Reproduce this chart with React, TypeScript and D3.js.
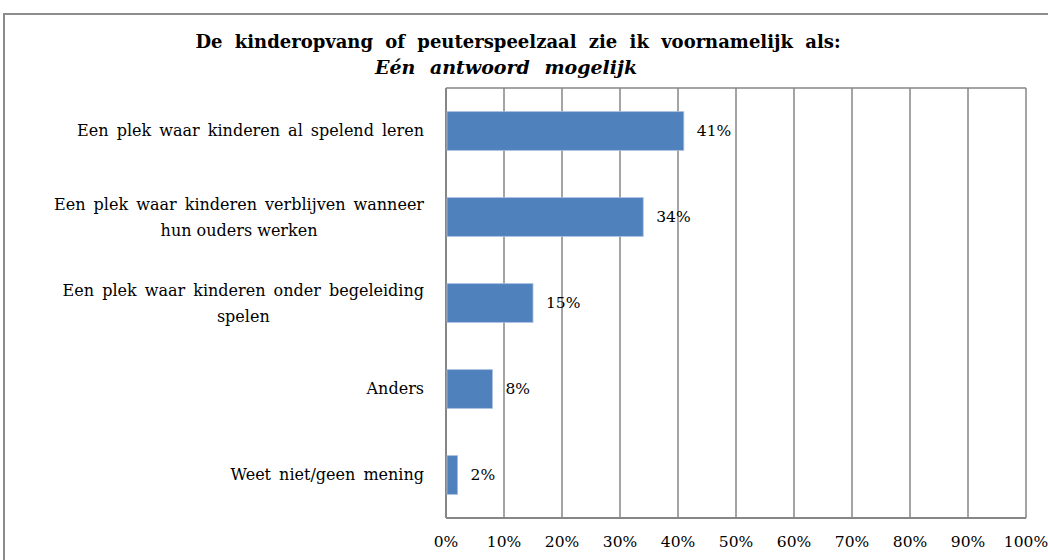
import React, { useLayoutEffect, useRef, useState } from "react";
import * as d3 from "d3";

const categories: string[][] = [
  ["Een plek waar kinderen al spelend leren"],
  ["Een plek waar kinderen verblijven wanneer", "hun ouders werken"],
  ["Een plek waar kinderen onder begeleiding", "spelen"],
  ["Anders"],
  ["Weet niet/geen mening"],
];
const values: number[] = [41, 34, 15, 8, 2];
const valueLabels: string[] = ["41%", "34%", "15%", "8%", "2%"];
const ticks: number[] = [0, 10, 20, 30, 40, 50, 60, 70, 80, 90, 100];
const title = "De kinderopvang of peuterspeelzaal zie ik voornamelijk als:";
const subtitle = "Eén antwoord mogelijk";

const W = 1048;
const H = 560;
const plot = { left: 446, right: 1026, top: 88, bottom: 518 };
const FONT = "'DejaVu Serif', serif";
const LABEL_RIGHT = 424;

function WrappedLabel({ lines, cy }: { lines: string[]; cy: number }) {
  const ref = useRef<SVGTextElement>(null);
  const [w, setW] = useState(380);
  useLayoutEffect(() => {
    if (ref.current) setW(ref.current.getComputedTextLength());
  }, []);
  const cx = LABEL_RIGHT - w / 2;
  return (
    <g>
      <text ref={ref} x={LABEL_RIGHT} y={cy - 7} textAnchor="end" fontFamily={FONT} fontSize={16} wordSpacing={3} fill="#000">
        {lines[0]}
      </text>
      <text x={cx} y={cy + 19} textAnchor="middle" fontFamily={FONT} fontSize={16} fill="#000">
        {lines[1]}
      </text>
    </g>
  );
}

export default function App() {
  const x = d3.scaleLinear().domain([0, 100]).range([plot.left, plot.right]);
  const y = d3
    .scaleBand<number>()
    .domain(categories.map((_, i) => i))
    .range([plot.top, plot.bottom])
    .paddingInner(0.55)
    .paddingOuter(0.275);
  const grid = "#868686";
  return (
    <svg
      width={W}
      height={H}
      style={{ position: "absolute", left: 0, top: 0, background: "#fff" }}
    >
      <rect x={4} y={14} width={W + 10} height={H + 10} fill="#fff" stroke="#8c8c8c" strokeWidth={2} />
      <text x={518} y={48} textAnchor="middle" fontFamily={FONT} fontWeight="bold" fontSize={18} wordSpacing={6} fill="#000">
        {title}
      </text>
      <text x={506} y={74} textAnchor="middle" fontFamily={FONT} fontStyle="italic" fontWeight="bold" fontSize={19} wordSpacing={8} fill="#000">
        {subtitle}
      </text>
      {ticks.map((t) => (
        <line key={t} x1={x(t)} x2={x(t)} y1={plot.top} y2={plot.bottom} stroke={grid} strokeWidth={1.5} />
      ))}
      <line x1={plot.left} x2={plot.right} y1={plot.top} y2={plot.top} stroke={grid} strokeWidth={1.5} />
      <line x1={plot.left} x2={plot.right} y1={plot.bottom} y2={plot.bottom} stroke={grid} strokeWidth={2} />
      <line x1={plot.left} x2={plot.left} y1={plot.top} y2={plot.bottom} stroke={grid} strokeWidth={2} />
      {values.map((v, i) => (
        <rect
          key={i}
          x={x(0) + 1}
          y={y(i)!}
          width={x(v) - x(0) - 1}
          height={y.bandwidth()}
          fill="#4f81bd"
          stroke="#a7bfde"
          strokeWidth={0.8}
        />
      ))}
      {values.map((v, i) => (
        <text
          key={"l" + i}
          x={x(v) + 13}
          y={y(i)! + y.bandwidth() / 2 + 5}
          fontFamily={FONT}
          fontSize={15.5}
          fill="#000"
        >
          {valueLabels[i]}
        </text>
      ))}
      {categories.map((lines, i) => {
        const cy = y(i)! + y.bandwidth() / 2;
        if (lines.length === 1) {
          return (
            <text key={"c" + i} x={LABEL_RIGHT} y={cy + 5} textAnchor="end" fontFamily={FONT} fontSize={16} wordSpacing={3} fill="#000">
              {lines[0]}
            </text>
          );
        }
        return <WrappedLabel key={"c" + i} lines={lines} cy={cy} />;
      })}
      {ticks.map((t) => (
        <text key={"t" + t} x={x(t)} y={547} textAnchor="middle" fontFamily={FONT} fontSize={15.5} fill="#000">
          {t + "%"}
        </text>
      ))}
    </svg>
  );
}
